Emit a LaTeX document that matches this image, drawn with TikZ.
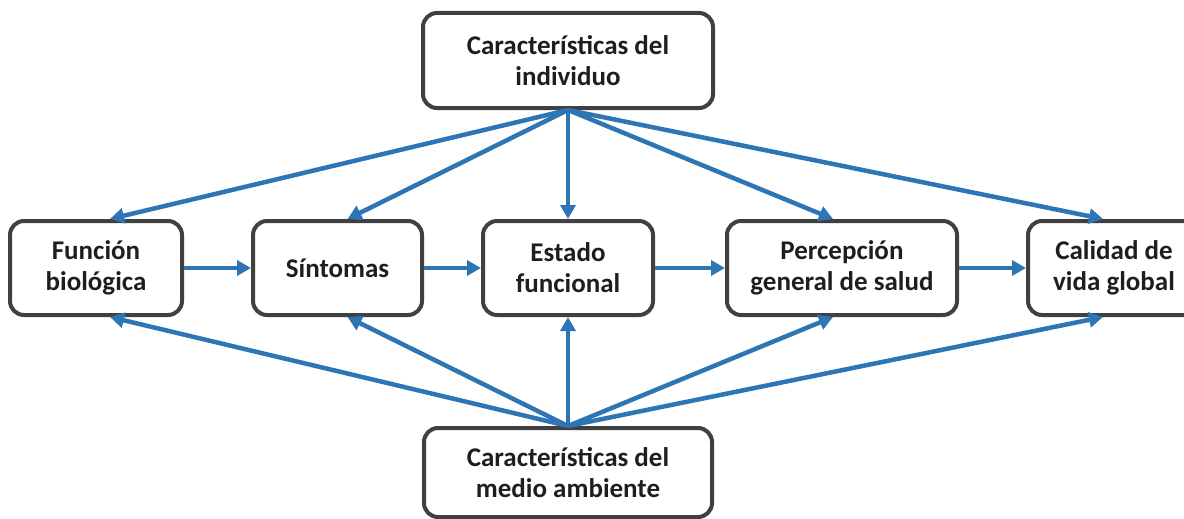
\documentclass[tikz,border=0pt]{standalone}
\usepackage{fontspec}
\setmainfont{Carlito}
\usetikzlibrary{arrows.meta,calc}
\definecolor{arrowblue}{RGB}{46,117,182}
\definecolor{boxgray}{RGB}{64,64,64}
\definecolor{txt}{RGB}{30,30,30}
\tikzset{
  box/.style={draw=boxgray, line width=4pt, rounded corners=14pt, fill=white,
    align=center, inner sep=0pt, text=txt,
    font=\fontsize{27}{31}\selectfont\bfseries},
  link/.style={draw=arrowblue, line width=4.5pt, -{Triangle[length=14pt,width=15pt]}}
}
\begin{document}
\begin{tikzpicture}[x=1pt,y=-1pt]
\useasboundingbox (0,0) rectangle (1184,519);
\node[box, minimum width=290pt, minimum height=95pt] (top) at (568,60.5) {Características del\\individuo};
\node[box, minimum width=288pt, minimum height=89pt] (bot) at (568,472.5) {Características del\\medio ambiente};
\node[box, minimum width=172pt, minimum height=94pt] (fb) at (96,268) {Función\\biológica};
\node[box, minimum width=169pt, minimum height=94pt] (sin) at (337.5,268) {Síntomas};
\node[box, minimum width=170pt, minimum height=94pt] (est) at (568,268) {Estado\\funcional};
\node[box, minimum width=230pt, minimum height=94pt] (per) at (842,268) {Percepción\\general de salud};
\node[box, minimum width=172pt, minimum height=94pt] (cal) at (1114,268) {Calidad de\\vida global};

\draw[link] (fb.east) -- (sin.west);
\draw[link] (sin.east) -- (est.west);
\draw[link] (est.east) -- (per.west);
\draw[link] (per.east) -- (cal.west);

\draw[link] (top.south) -- ($(fb.north)+(14,0)$);
\draw[link] (top.south) -- ($(sin.north)+(10,0)$);
\draw[link] (top.south) -- (est.north);
\draw[link] (top.south) -- ($(per.north)+(-9,0)$);
\draw[link] (top.south) -- ($(cal.north)+(-11,0)$);

\draw[link] (bot.north) -- ($(fb.south)+(14,0)$);
\draw[link] (bot.north) -- ($(sin.south)+(10,0)$);
\draw[link] (bot.north) -- (est.south);
\draw[link] (bot.north) -- ($(per.south)+(-9,0)$);
\draw[link] (bot.north) -- ($(cal.south)+(-11,0)$);
\end{tikzpicture}
\end{document}
